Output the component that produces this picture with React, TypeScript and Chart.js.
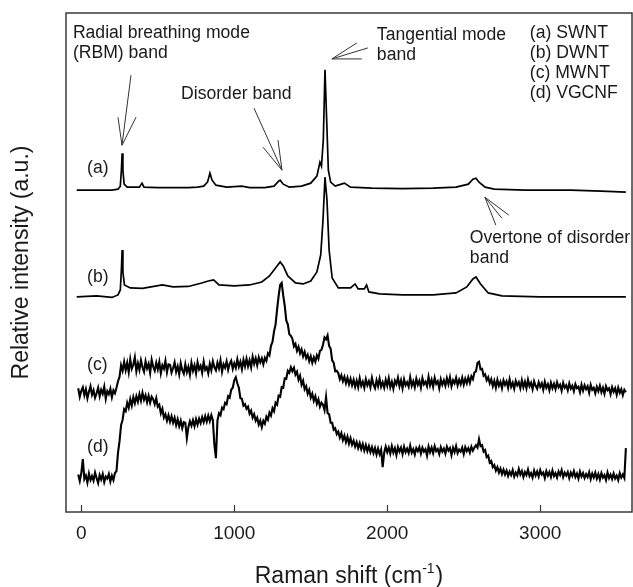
import React, { useEffect, useRef } from "react";
import { Chart, registerables } from "chart.js";

Chart.register(...registerables);

const FONT = '"Liberation Sans", Arial, Helvetica, sans-serif';

// ---- axis ----
const xTickValues = [0, 1000, 2000, 3000];
const xAxisTitleMain = "Raman shift (cm";
const xAxisTitleSup = "-1";
const xAxisTitleEnd = ")";
const yAxisTitle = "Relative intensity (a.u.)";

// ---- (a) SWNT ----
const swntShift = [-30, 100, 200, 240, 255, 262, 267, 272, 280, 300, 380, 397, 410, 500, 600, 700, 760, 800, 825, 841, 855, 880, 950, 1050, 1100, 1200, 1260, 1290, 1300, 1320, 1360, 1440, 1500, 1540, 1560, 1570, 1582, 1593, 1604, 1615, 1630, 1660, 1700, 1720, 1760, 1900, 2100, 2300, 2450, 2530, 2560, 2580, 2600, 2640, 2700, 2900, 3200, 3400, 3560];
const swntIntensity = [64.5, 64.5, 64.5, 64.7, 65.3, 68.5, 71.9, 68.5, 65.7, 65.1, 65.1, 65.9, 65.1, 65.0, 65.0, 65.0, 65.1, 65.3, 66.1, 67.9, 66.5, 65.5, 65.1, 65.3, 65.0, 65.0, 65.3, 66.3, 66.5, 65.7, 65.1, 65.3, 65.9, 67.3, 70.1, 69.3, 74.5, 88.6, 78.6, 68.5, 66.1, 65.3, 65.7, 65.9, 65.1, 64.9, 64.8, 64.9, 65.1, 65.7, 66.7, 66.9, 66.1, 65.1, 64.7, 64.5, 64.5, 64.3, 64.1];

// ---- (b) DWNT ----
const dwntShift = [-30, 100, 200, 240, 255, 262, 267, 272, 282, 320, 400, 530, 600, 700, 787, 830, 865, 900, 1000, 1100, 1180, 1230, 1270, 1300, 1320, 1350, 1400, 1450, 1500, 1540, 1565, 1580, 1593, 1606, 1620, 1640, 1680, 1760, 1790, 1810, 1850, 1865, 1880, 1950, 2100, 2300, 2450, 2520, 2560, 2580, 2610, 2660, 2750, 3000, 3300, 3560];
const dwntIntensity = [43.1, 43.3, 43.0, 43.5, 44.5, 48.5, 52.5, 48.1, 45.5, 44.9, 44.8, 45.5, 45.1, 45.2, 45.9, 46.3, 46.5, 45.5, 45.3, 45.5, 46.1, 47.3, 48.9, 50.1, 49.3, 47.3, 45.9, 45.7, 46.3, 48.1, 51.5, 58.5, 67.1, 62.5, 52.5, 46.9, 44.9, 44.9, 45.7, 44.7, 44.7, 45.5, 44.1, 43.7, 43.5, 43.5, 43.9, 45.1, 46.7, 47.1, 45.7, 43.9, 43.3, 43.1, 43.1, 43.1];

// ---- (c) MWNT and (d) VGCNF share the sampled shifts (every 10 cm-1) ----
const noisyShift = [
  -20, -10, 0, 10, 20, 30, 40, 50, 60, 70,
  80, 90, 100, 110, 120, 130, 140, 150, 160, 170,
  180, 190, 200, 210, 220, 230, 240, 250, 260, 270,
  280, 290, 300, 310, 320, 330, 340, 350, 360, 370,
  380, 390, 400, 410, 420, 430, 440, 450, 460, 470,
  480, 490, 500, 510, 520, 530, 540, 550, 560, 570,
  580, 590, 600, 610, 620, 630, 640, 650, 660, 670,
  680, 690, 700, 710, 720, 730, 740, 750, 760, 770,
  780, 790, 800, 810, 820, 830, 840, 850, 860, 870,
  880, 890, 900, 910, 920, 930, 940, 950, 960, 970,
  980, 990, 1000, 1010, 1020, 1030, 1040, 1050, 1060, 1070,
  1080, 1090, 1100, 1110, 1120, 1130, 1140, 1150, 1160, 1170,
  1180, 1190, 1200, 1210, 1220, 1230, 1240, 1250, 1260, 1270,
  1280, 1290, 1300, 1310, 1320, 1330, 1340, 1350, 1360, 1370,
  1380, 1390, 1400, 1410, 1420, 1430, 1440, 1450, 1460, 1470,
  1480, 1490, 1500, 1510, 1520, 1530, 1540, 1550, 1560, 1570,
  1580, 1590, 1600, 1610, 1620, 1630, 1640, 1650, 1660, 1670,
  1680, 1690, 1700, 1710, 1720, 1730, 1740, 1750, 1760, 1770,
  1780, 1790, 1800, 1810, 1820, 1830, 1840, 1850, 1860, 1870,
  1880, 1890, 1900, 1910, 1920, 1930, 1940, 1950, 1960, 1970,
  1980, 1990, 2000, 2010, 2020, 2030, 2040, 2050, 2060, 2070,
  2080, 2090, 2100, 2110, 2120, 2130, 2140, 2150, 2160, 2170,
  2180, 2190, 2200, 2210, 2220, 2230, 2240, 2250, 2260, 2270,
  2280, 2290, 2300, 2310, 2320, 2330, 2340, 2350, 2360, 2370,
  2380, 2390, 2400, 2410, 2420, 2430, 2440, 2450, 2460, 2470,
  2480, 2490, 2500, 2510, 2520, 2530, 2540, 2550, 2560, 2570,
  2580, 2590, 2600, 2610, 2620, 2630, 2640, 2650, 2660, 2670,
  2680, 2690, 2700, 2710, 2720, 2730, 2740, 2750, 2760, 2770,
  2780, 2790, 2800, 2810, 2820, 2830, 2840, 2850, 2860, 2870,
  2880, 2890, 2900, 2910, 2920, 2930, 2940, 2950, 2960, 2970,
  2980, 2990, 3000, 3010, 3020, 3030, 3040, 3050, 3060, 3070,
  3080, 3090, 3100, 3110, 3120, 3130, 3140, 3150, 3160, 3170,
  3180, 3190, 3200, 3210, 3220, 3230, 3240, 3250, 3260, 3270,
  3280, 3290, 3300, 3310, 3320, 3330, 3340, 3350, 3360, 3370,
  3380, 3390, 3400, 3410, 3420, 3430, 3440, 3450, 3460, 3470,
  3480, 3490, 3500, 3510, 3520, 3530, 3540, 3550, 3560,
];
const mwntIntensity = [
  24.8, 23.1, 24.3, 25.0, 23.4, 24.6, 22.8, 24.1, 25.2, 23.5,
  24.4, 22.9, 23.8, 24.9, 23.2, 24.5, 23.7, 25.1, 22.7, 24.2,
  23.6, 24.7, 23.0, 24.4, 23.8, 24.9, 26.2, 27.1, 29.4, 28.3,
  30.1, 28.4, 29.9, 28.0, 30.6, 28.7, 29.5, 31.0, 28.2, 29.8,
  28.5, 30.4, 29.0, 28.1, 30.2, 28.8, 29.7, 27.9, 30.5, 29.1,
  28.3, 29.9, 28.6, 30.1, 27.8, 29.4, 28.7, 30.3, 28.0, 29.6,
  29.5, 27.9, 28.8, 30.0, 28.1, 29.2, 27.6, 29.8, 28.4, 27.7,
  29.6, 28.0, 29.1, 27.5, 29.9, 28.3, 29.4, 27.8, 30.0, 28.6,
  29.3, 27.9, 30.1, 28.5, 29.0, 27.8, 29.7, 28.4, 30.2, 29.0,
  28.4, 29.9, 28.8, 30.4, 28.1, 29.6, 28.9, 30.2, 28.5, 29.7,
  30.3, 28.7, 29.8, 28.9, 30.6, 29.1, 30.1, 28.6, 30.5, 29.2,
  30.7, 29.2, 30.4, 29.0, 31.1, 29.7, 30.8, 29.4, 31.0, 30.0,
  30.8, 29.6, 30.9, 30.3, 31.8, 31.4, 33.3, 34.1, 36.2, 37.6,
  40.6, 43.3, 45.5, 45.9, 43.4, 41.3, 38.4, 37.6, 35.6, 35.3,
  34.7, 33.2, 33.7, 32.3, 33.1, 31.8, 32.6, 31.2, 32.1, 30.8,
  31.5, 30.2, 31.2, 29.9, 31.0, 30.1, 31.4, 30.7, 32.3, 32.5,
  33.5, 35.0, 34.6, 35.4, 33.3, 32.7, 30.4, 29.9, 28.2, 28.3,
  27.8, 26.6, 27.4, 26.2, 27.1, 25.8, 26.9, 25.6, 26.7, 25.4,
  26.5, 25.1, 26.3, 25.0, 26.8, 25.3, 26.1, 24.9, 26.6, 25.4,
  26.2, 25.0, 26.9, 25.5, 24.8, 26.4, 25.2, 26.7, 25.1, 26.0,
  24.9, 26.5, 25.3, 26.8, 25.0, 26.1, 24.7, 26.3, 25.6, 26.9,
  25.2, 26.4, 24.8, 26.6, 25.4, 26.0, 25.1, 27.0, 25.3, 26.2,
  25.0, 26.7, 25.5, 26.3, 24.9, 26.8, 25.6, 26.1, 25.2, 27.1,
  25.4, 26.5, 25.1, 26.9, 25.7, 26.2, 24.8, 26.6, 25.5, 26.4,
  25.3, 26.8, 25.6, 27.0, 25.2, 26.4, 25.8, 26.9, 25.4, 26.5,
  25.6, 26.9, 25.5, 26.7, 25.8, 27.0, 25.9, 27.2, 26.6, 28.0,
  28.2, 29.9, 30.1, 28.6, 28.7, 27.3, 27.6, 26.4, 27.0, 25.8,
  26.6, 25.2, 26.3, 24.9, 26.5, 25.3, 26.1, 24.8, 26.4, 25.5,
  26.2, 24.9, 26.6, 25.1, 25.9, 24.7, 26.3, 25.4, 26.0, 24.8,
  26.4, 25.0, 26.1, 24.8, 26.5, 25.2, 25.9, 24.6, 26.2, 25.3,
  24.7, 26.0, 25.1, 25.8, 24.5, 26.1, 24.9, 25.6, 24.4, 25.9,
  24.8, 25.7, 24.6, 26.0, 25.0, 25.5, 24.3, 25.9, 24.9, 25.4,
  24.4, 25.8, 24.7, 25.3, 24.2, 25.6, 24.8, 25.1, 24.0, 25.5,
  24.3, 25.4, 24.6, 25.2, 23.9, 25.5, 24.5, 24.9, 23.8, 25.1,
  24.2, 25.3, 24.0, 24.9, 23.7, 25.2, 24.4, 24.8, 23.6, 25.0,
  24.1, 24.8, 23.5, 24.9, 23.9, 24.6, 23.4, 24.5, 24.0,
];
const vgcnfIntensity = [
  7.5, 6.2, 7.8, 10.6, 6.6, 7.3, 5.9, 7.7, 6.4, 7.2,
  6.3, 7.9, 6.8, 5.8, 7.4, 6.5, 7.6, 6.0, 7.1, 6.7,
  7.6, 6.1, 7.3, 6.4, 7.8, 8.2, 11.9, 14.2, 17.4, 18.5,
  20.6, 20.2, 21.9, 20.9, 22.6, 21.3, 23.0, 21.8, 23.2, 22.1,
  23.6, 22.3, 23.9, 22.5, 23.4, 22.0, 23.3, 21.9, 23.1, 22.6,
  21.6, 22.8, 21.1, 21.5, 19.8, 20.7, 18.9, 19.6, 18.3, 19.4,
  18.1, 19.2, 17.9, 18.9, 17.4, 18.6, 17.2, 18.3, 16.8, 18.0,
  17.9, 14.8, 17.0, 18.2, 17.3, 18.4, 17.2, 18.6, 17.5, 18.7,
  17.8, 19.0, 18.0, 19.2, 18.1, 19.3, 18.2, 19.4, 18.4, 13.5,
  10.8, 18.3, 19.8, 19.4, 20.9, 20.6, 21.9, 21.6, 23.2, 22.9,
  24.5, 24.9, 26.4, 27.0, 25.8, 24.9, 22.8, 22.7, 21.3, 21.6,
  20.7, 21.1, 19.7, 20.3, 18.9, 19.6, 18.3, 18.9, 17.5, 18.3,
  17.0, 18.3, 17.7, 19.1, 18.5, 19.9, 19.3, 20.8, 20.2, 21.9,
  21.5, 23.3, 23.1, 25.0, 24.9, 26.8, 26.7, 28.3, 27.9, 29.0,
  28.2, 28.9, 27.5, 28.1, 26.5, 27.3, 25.5, 26.3, 24.6, 25.2,
  23.7, 24.5, 22.9, 23.7, 22.3, 23.2, 21.7, 22.6, 21.1, 21.9,
  21.5, 20.4, 23.0, 19.8, 19.6, 17.9, 17.9, 16.5, 16.8, 15.6,
  16.1, 14.9, 15.8, 14.4, 15.3, 14.0, 15.1, 13.7, 14.8, 13.5,
  14.3, 13.1, 14.0, 12.8, 13.8, 12.6, 13.6, 12.3, 13.4, 12.2,
  13.2, 12.0, 13.0, 11.8, 12.8, 11.5, 12.7, 11.6, 12.5, 9.0,
  11.9, 13.1, 12.0, 12.9, 11.7, 13.2, 11.9, 12.8, 11.4, 13.0,
  12.1, 12.9, 11.6, 13.1, 12.0, 12.7, 11.8, 13.3, 11.9, 12.6,
  11.5, 12.8, 12.2, 13.0, 11.7, 12.9, 12.1, 12.6, 11.3, 13.1,
  12.0, 12.9, 11.8, 13.2, 12.2, 12.6, 11.6, 13.0, 12.1, 12.7,
  11.7, 13.1, 12.3, 12.8, 11.4, 12.9, 12.0, 13.2, 11.8, 12.5,
  12.1, 12.9, 11.6, 13.0, 12.2, 12.8, 11.9, 13.1, 12.3, 12.9,
  13.4, 12.9, 14.6, 13.2, 13.4, 12.1, 12.4, 11.0, 11.3, 9.9,
  10.2, 9.0, 9.4, 8.3, 9.0, 7.9, 8.7, 7.6, 8.5, 7.5,
  8.3, 7.2, 8.1, 7.4, 8.4, 7.1, 7.9, 7.3, 8.6, 7.5,
  8.2, 7.0, 8.0, 7.4, 8.5, 7.2, 7.8, 6.9, 8.3, 7.3,
  8.1, 7.1, 8.4, 7.5, 7.9, 6.8, 8.2, 7.3, 8.0, 7.0,
  8.3, 7.2, 7.8, 6.9, 8.1, 7.4, 8.4, 7.0, 7.9, 7.3,
  8.0, 6.8, 7.9, 7.2, 8.2, 7.0, 7.7, 6.7, 8.1, 7.1,
  7.8, 6.8, 7.6, 7.0, 8.0, 6.6, 7.7, 6.9, 7.9, 6.7,
  7.6, 6.5, 7.8, 6.9, 7.4, 6.4, 7.9, 6.8, 7.5, 6.6,
  7.7, 6.7, 7.3, 6.4, 7.8, 6.9, 7.5, 6.8, 12.8,
];

// ---- text labels (anchored in data units) ----
const noteTexts = ["Radial breathing mode", "(RBM) band", "Disorder band", "Tangential mode", "band", "Overtone of disorder", "band"];
const noteShift = [-55, -55, 652, 1932, 1932, 2540, 2540];
const noteLevel = [96.0, 92.0, 83.8, 95.6, 91.6, 54.9, 50.9];

const legendTexts = ["(a) SWNT", "(b) DWNT", "(c) MWNT", "(d) VGCNF"];
const legendShift = 2932;
const legendLevels = [96.0, 92.0, 88.0, 84.0];

const seriesTags = ["(a)", "(b)", "(c)", "(d)"];
const seriesTagShift = 38;
const seriesTagLevels = [68.9, 47.1, 29.5, 13.0];

// ---- arrows: tip in data units ----
const arrowTipShift = [266, 1312, 1638, 2638];
const arrowTipLevel = [73.5, 68.5, 90.8, 63.1];

const toXY = (xs: number[], ys: number[]) => xs.map((x, i) => ({ x, y: ys[i] }));

export default function App() {
  const canvasRef = useRef<HTMLCanvasElement | null>(null);

  useEffect(() => {
    const canvas = canvasRef.current;
    if (!canvas) return;

    // arrow strokes as pixel offsets from tip (shaft + two barbs)
    const arrowStrokes = [
      [[9, -70], [-4, -28], [14, -28]],
      [[-28, -62], [-19, -23], [-4, -30]],
      [[25, -16], [36, -11], [30, 0]],
      [[11, 28], [17, 21], [24, 18]],
    ];

    const decor = {
      id: "decor",
      afterDatasetsDraw(chart: any) {
        const { ctx, chartArea: ca, scales } = chart;
        const xs = scales.x;
        const ys = scales.y;
        ctx.save();
        // frame
        ctx.strokeStyle = "#3a3a3a";
        ctx.lineWidth = 1.5;
        ctx.strokeRect(ca.left, ca.top, ca.right - ca.left, ca.bottom - ca.top);
        // inner ticks
        ctx.lineWidth = 1.2;
        xs.ticks.forEach((t: any) => {
          const px = Math.round(xs.getPixelForValue(t.value)) + 0.5;
          ctx.beginPath();
          ctx.moveTo(px, ca.bottom);
          ctx.lineTo(px, ca.bottom - 7);
          ctx.stroke();
        });
        // arrows
        ctx.strokeStyle = "#333";
        ctx.lineWidth = 1;
        arrowTipShift.forEach((sx, i) => {
          const tx = xs.getPixelForValue(sx);
          const ty = ys.getPixelForValue(arrowTipLevel[i]);
          arrowStrokes[i].forEach(([dx, dy]) => {
            ctx.beginPath();
            ctx.moveTo(tx, ty);
            ctx.lineTo(tx + dx, ty + dy);
            ctx.stroke();
          });
        });
        // texts
        ctx.fillStyle = "#1a1a1a";
        ctx.textAlign = "left";
        ctx.textBaseline = "middle";
        ctx.font = `17.6px ${FONT}`;
        noteTexts.forEach((t, i) => {
          ctx.fillText(t, xs.getPixelForValue(noteShift[i]), ys.getPixelForValue(noteLevel[i]));
        });
        legendTexts.forEach((t, i) => {
          ctx.fillText(t, xs.getPixelForValue(legendShift), ys.getPixelForValue(legendLevels[i]));
        });
        seriesTags.forEach((t, i) => {
          ctx.fillText(t, xs.getPixelForValue(seriesTagShift), ys.getPixelForValue(seriesTagLevels[i]));
        });
        // x axis title with superscript
        ctx.textBaseline = "alphabetic";
        const mainFont = `23px ${FONT}`;
        const supFont = `14px ${FONT}`;
        ctx.font = mainFont;
        const w1 = ctx.measureText(xAxisTitleMain).width;
        const w3 = ctx.measureText(xAxisTitleEnd).width;
        ctx.font = supFont;
        const w2 = ctx.measureText(xAxisTitleSup).width;
        const total = w1 + w2 + w3 + 1;
        const cx = (ca.left + ca.right) / 2;
        const base = chart.height - 4;
        let x0 = cx - total / 2;
        ctx.font = mainFont;
        ctx.fillText(xAxisTitleMain, x0, base);
        x0 += w1;
        ctx.font = supFont;
        ctx.fillText(xAxisTitleSup, x0, base - 10);
        x0 += w2 + 1;
        ctx.font = mainFont;
        ctx.fillText(xAxisTitleEnd, x0, base);
        ctx.restore();
      },
    };

    const lineStyle = { borderColor: "#000", pointRadius: 0, fill: false, tension: 0 };

    const chart = new Chart(canvas, {
      type: "line",
      data: {
        datasets: [
          { label: "(a) SWNT", data: toXY(swntShift, swntIntensity), borderWidth: 1.7, ...lineStyle },
          { label: "(b) DWNT", data: toXY(dwntShift, dwntIntensity), borderWidth: 1.7, ...lineStyle },
          { label: "(c) MWNT", data: toXY(noisyShift, mwntIntensity), borderWidth: 2.1, ...lineStyle },
          { label: "(d) VGCNF", data: toXY(noisyShift, vgcnfIntensity), borderWidth: 2.1, ...lineStyle },
        ],
      },
      options: {
        animation: false,
        responsive: true,
        maintainAspectRatio: false,
        layout: { padding: { top: 13, right: 1, left: 0, bottom: 0 } },
        plugins: { legend: { display: false }, tooltip: { enabled: false } },
        scales: {
          x: {
            type: "linear",
            min: -100,
            max: 3600,
            grid: { display: false, drawTicks: false },
            border: { display: false },
            afterBuildTicks: (s: any) => {
              s.ticks = xTickValues.map((v) => ({ value: v }));
            },
            afterFit: (s: any) => {
              s.height = 75;
            },
            ticks: {
              color: "#1a1a1a",
              font: { family: FONT, size: 19 },
              padding: 10,
              maxRotation: 0,
              autoSkip: false,
              callback: (v: any) => String(v),
            },
          },
          y: {
            type: "linear",
            min: 0,
            max: 100,
            grid: { display: false, drawTicks: false },
            border: { display: false },
            ticks: { display: false },
            afterFit: (s: any) => {
              s.width = 66;
            },
            title: {
              display: true,
              text: yAxisTitle,
              color: "#1a1a1a",
              font: { family: FONT, size: 23 },
              padding: { top: 8, bottom: 0 },
            },
          },
        },
      },
      plugins: [decor],
    });

    return () => chart.destroy();
  }, []);

  return (
    <div style={{ position: "fixed", left: 0, top: 0, width: 633, height: 587, background: "#fff" }}>
      <canvas ref={canvasRef} />
    </div>
  );
}
